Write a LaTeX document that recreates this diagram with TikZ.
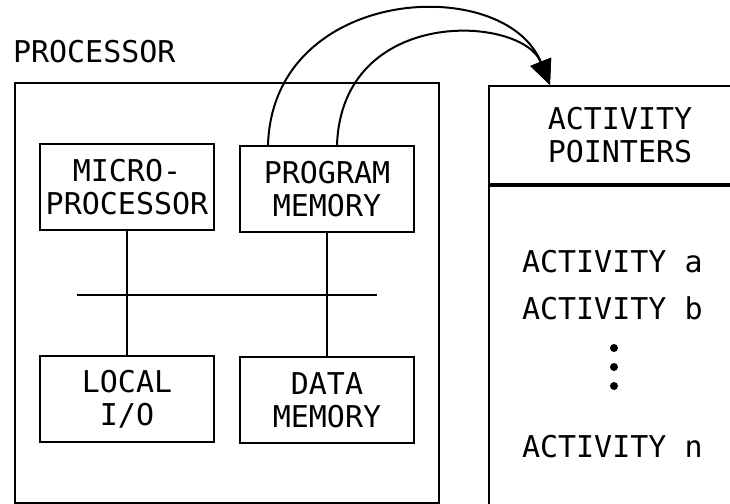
\documentclass[tikz,border=0pt]{standalone}
\usepackage{fontspec}
\newfontfamily\plotfont{DejaVu Sans Mono}
\usetikzlibrary{arrows.meta,calc}

\begin{document}
\begin{tikzpicture}[
    x=0.5pt, y=-0.5pt,
    line width=1pt,
    every node/.style={align=center, font=\plotfont\fontsize{15}{16.5}\selectfont},
    unit/.style={draw, minimum width=87pt, minimum height=43pt, inner sep=0pt},
    entry/.style={anchor=west, inner sep=0pt},
    link/.style={-{Triangle[length=12.5pt, width=11pt]}},
    dot/.style={circle, fill, inner sep=0pt, minimum size=4pt}
]

  \useasboundingbox (0,0) rectangle (730,504);
  \clip (0,0) rectangle (730,504);

  % processor side
  \node[entry] (proclabel) at (12,52) {PROCESSOR};
  \node[draw, anchor=north west, minimum width=212pt, minimum height=210pt] (proc) at (14,82) {};

  \node[unit] (micro) at (127,187) {MICRO-\\PROCESSOR};
  \node[unit] (prog) at (327,189) {PROGRAM\\MEMORY};
  \node[unit] (local) at (127,399) {LOCAL\\I/O};
  \node[unit] (data) at (327,400) {DATA\\MEMORY};

  \coordinate (busl) at (77,295);
  \coordinate (busr) at (377,295);
  \draw (busl) -- (busr);
  \draw (micro) -- (local);
  \draw (prog) -- (data);

  % activity table
  \node[draw, anchor=north west, minimum width=131pt, minimum height=49pt] (hdr) at (488,85) {ACTIVITY\\POINTERS};
  \node[draw, anchor=north, minimum width=131pt, minimum height=170pt] (list) at (hdr.south) {};

  \node[entry] (acta) at (521,262) {ACTIVITY a};
  \node[entry] (actb) at (521,308) {ACTIVITY b};
  \foreach \ypos [count=\i] in {348,367,386}
    \node[dot] (dot\i) at (614,\ypos) {};
  \node[entry] (actn) at (521,447) {ACTIVITY n};

  % pointers
  \coordinate (tip) at ($(hdr.north west)+(62,0)$);
  \draw[link] ($(prog.north)+(-59,0)$) .. controls +(5,-160) and +(-45,-112) .. (tip);
  \draw[link] ($(prog.north)+(10,0)$) .. controls +(5,-140) and +(-28,-70) .. (tip);
\end{tikzpicture}
\end{document}
